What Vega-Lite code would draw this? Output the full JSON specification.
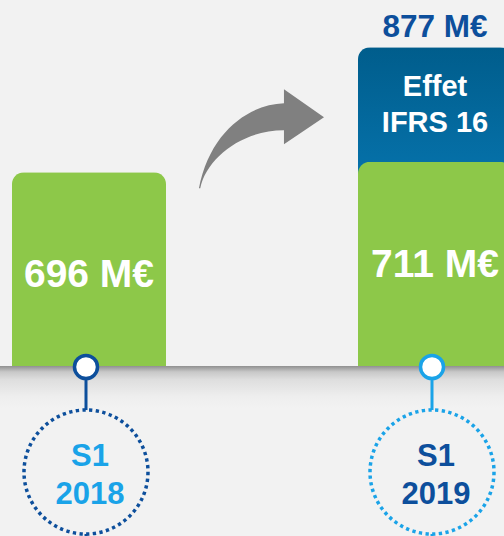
{
  "$schema": "https://vega.github.io/schema/vega-lite/v6.json",
  "padding": 0,
  "spacing": 0,
  "bounds": "flush",
  "background": "#f2f2f2",
  "config": {
    "view": {"stroke": null},
    "font": "Liberation Sans",
    "text": {"font": "Liberation Sans", "fontWeight": "bold"}
  },
  "datasets": {
    "periods": [
      {"period": "S1 2018", "hors_ifrs16": 696, "total": 696},
      {"period": "S1 2019", "hors_ifrs16": 711, "total": 877}
    ]
  },
  "vconcat": [
    {
      "width": 504,
      "height": 366,
      "data": {"name": "periods"},
      "encoding": {
        "x": {"field": "period", "type": "nominal", "axis": null,
              "scale": {"domain": ["S1 2018", "S1 2019"], "paddingInner": 0.5434, "paddingOuter": 0}}
      },
      "layer": [
        {
          "transform": [{"filter": "datum.total > datum.hors_ifrs16"}],
          "mark": {"type": "bar", "width": {"band": 0.975}, "xOffset": 10,
                   "cornerRadiusTopLeft": 12, "cornerRadiusTopRight": 12,
                   "color": {"gradient": "linear", "x1": 0, "y1": 0, "x2": 0, "y2": 1,
                             "stops": [{"offset": 0, "color": "#005d8c"}, {"offset": 0.36, "color": "#0a80bf"}, {"offset": 1, "color": "#0a80bf"}]}},
          "encoding": {
            "y": {"field": "total", "type": "quantitative", "axis": null,
                  "scale": {"domain": [415.3, 945.3], "zero": false, "nice": false}}
          }
        },
        {
          "mark": {"type": "bar", "width": {"band": 0.975}, "xOffset": 10, "color": "#8dc849",
                   "cornerRadiusTopLeft": 12, "cornerRadiusTopRight": 12},
          "encoding": {"y": {"field": "hors_ifrs16", "type": "quantitative"}}
        },
        {
          "transform": [{"calculate": "datum.hors_ifrs16 + ' M€'", "as": "label"}],
          "mark": {"type": "text", "xOffset": 10, "yOffset": 103, "fontSize": 39, "color": "#ffffff", "baseline": "middle", "align": "center"},
          "encoding": {"y": {"field": "hors_ifrs16", "type": "quantitative"}, "text": {"field": "label"}}
        },
        {
          "transform": [{"filter": "datum.total > datum.hors_ifrs16"}],
          "mark": {"type": "text", "xOffset": 10, "yOffset": 40, "fontSize": 29, "lineHeight": 36, "color": "#ffffff", "baseline": "middle", "align": "center"},
          "encoding": {"y": {"field": "total", "type": "quantitative"}, "text": {"value": ["Effet", "IFRS 16"]}}
        },
        {
          "transform": [{"filter": "datum.total > datum.hors_ifrs16"}, {"calculate": "datum.total + ' M€'", "as": "label"}],
          "mark": {"type": "text", "xOffset": 10, "yOffset": -19, "fontSize": 31.5, "color": "#0d4f9c", "baseline": "middle", "align": "center"},
          "encoding": {"y": {"field": "total", "type": "quantitative"}, "text": {"field": "label"}}
        },
        {
          "transform": [{"filter": "datum.period == 'S1 2018'"}],
          "mark": {"type": "point", "filled": true, "color": "#808080", "opacity": 1, "size": 16900, "xOffset": 183, "yOffset": -34,
                   "shape": "M 0.338 -0.538 C -0.2 -0.52 -0.8 -0.1 -0.97 0.77 L -0.95 0.77 C -0.85 0.3 -0.3 -0.12 0.338 -0.123 L 0.338 0.092 L 0.954 -0.323 L 0.338 -0.754 Z"},
          "encoding": {"y": {"field": "hors_ifrs16", "type": "quantitative"}}
        }
      ]
    },
    {
      "width": 504,
      "height": 170,
      "view": {"stroke": null, "fill": {"gradient": "linear", "x1": 0, "y1": 0, "x2": 0, "y2": 1,
        "stops": [{"offset": 0, "color": "#909090"}, {"offset": 0.035, "color": "#c8c8c8"}, {"offset": 0.08, "color": "#dedede"}, {"offset": 0.18, "color": "#eeeeee"}, {"offset": 0.25, "color": "#f2f2f2"}, {"offset": 1, "color": "#f2f2f2"}]}},
      "data": {"name": "periods"},
      "encoding": {
        "x": {"field": "period", "type": "nominal", "axis": null,
              "scale": {"domain": ["S1 2018", "S1 2019"], "paddingInner": 0.5434, "paddingOuter": 0}}
      },
      "layer": [
        {
          "mark": {"type": "rule", "xOffset": 7, "strokeWidth": 3},
          "encoding": {"stroke": {"field": "period", "type": "nominal", "legend": null,
                                  "scale": {"domain": ["S1 2018", "S1 2019"], "range": ["#0d4f9c", "#1aa3e8"]}}}
        },
        {
          "mark": {"type": "point", "shape": "circle", "size": 15376, "xOffset": 7, "yOffset": 21, "filled": false,
                   "fill": "#f2f2f2", "fillOpacity": 1, "strokeWidth": 3.5, "strokeDash": [3.3, 3.4], "opacity": 1},
          "encoding": {"stroke": {"field": "period", "type": "nominal", "legend": null}}
        },
        {
          "mark": {"type": "point", "shape": "circle", "size": 530, "xOffset": 7, "yOffset": -84, "filled": false,
                   "fill": "#ffffff", "fillOpacity": 1, "strokeWidth": 3.5, "opacity": 1},
          "encoding": {"stroke": {"field": "period", "type": "nominal", "legend": null}}
        },
        {
          "transform": [{"calculate": "split(datum.period, ' ')", "as": "lines"}],
          "mark": {"type": "text", "xOffset": 11, "yOffset": 6, "fontSize": 31, "lineHeight": 37.5, "baseline": "middle", "align": "center"},
          "encoding": {
            "text": {"field": "lines"},
            "color": {"field": "period", "type": "nominal", "legend": null,
                      "scale": {"domain": ["S1 2018", "S1 2019"], "range": ["#1aa3e8", "#0d4f9c"]}}
          }
        }
      ]
    }
  ]
}
